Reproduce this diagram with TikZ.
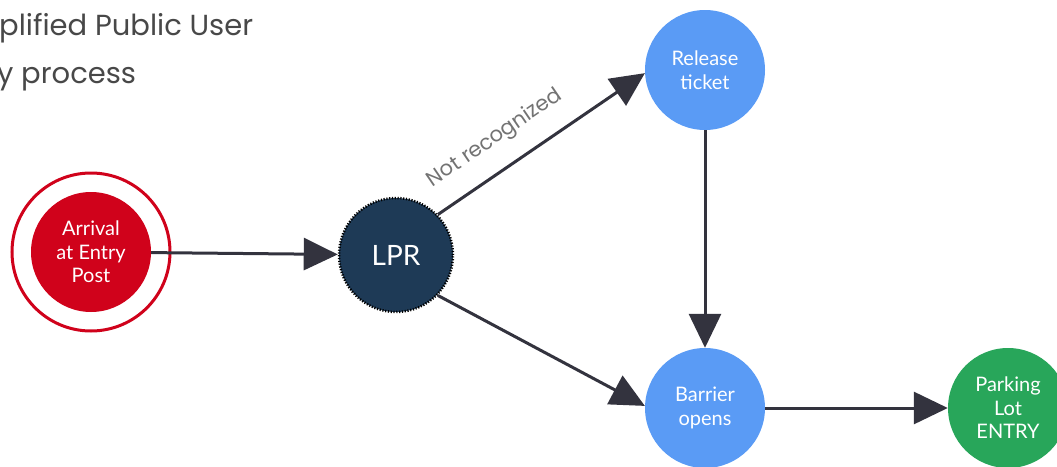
\documentclass[tikz,border=0pt]{standalone}
\usepackage{fontspec}
\setmainfont{Lato}
\newfontfamily\titlefont{Poppins}
\usetikzlibrary{arrows.meta}

\definecolor{stopred}{RGB}{208,2,27}
\definecolor{stepblue}{RGB}{90,155,245}
\definecolor{gogreen}{RGB}{40,166,90}
\definecolor{lprnavy}{RGB}{30,58,86}
\definecolor{flowgray}{RGB}{51,51,62}
\definecolor{titlegray}{RGB}{72,72,72}
\definecolor{notegray}{RGB}{115,115,115}

\begin{document}
\begin{tikzpicture}[x=1pt,y=-1pt,
  state/.style={circle, minimum size=120pt, inner sep=0pt, text=white,
    align=center, font=\fontsize{20}{23.5}\selectfont},
  flow/.style={draw=flowgray, line width=3pt,
    -{Triangle[length=34pt,width=32pt]}}]
  \useasboundingbox (0,0) rectangle (1057,466);

  % title, cut by the page edge
  \node[anchor=base west, inner sep=0pt, text=titlegray,
    font=\titlefont\fontsize{29}{34}\selectfont] (title1) at (-1,35) {plified Public User};
  \node[anchor=base west, inner sep=0pt, text=titlegray,
    font=\titlefont\fontsize{29}{34}\selectfont] (title2) at (-3,83) {y process};

  % states
  \node[state, fill=stopred] (arrival) at (91,252) {Arrival\\at Entry\\Post};
  \draw[stopred, line width=3pt] (arrival.center) circle (79);
  \node[state, fill=lprnavy, minimum size=114pt, draw=black, line width=2.5pt,
    dash pattern=on 1.2pt off 1.6pt, font=\fontsize{28}{32}\selectfont]
    (lpr) at (396,255) {LPR};
  \node[state, fill=stepblue] (release) at (705,70) {Release\\ticket};
  \node[state, fill=stepblue] (barrier) at (705,408) {Barrier\\opens};
  \node[state, fill=gogreen] (parking) at (1008,408) {Parking\\Lot\\ENTRY};

  % flows
  \draw[flow] (arrival) -- (lpr);
  \draw[flow] (lpr.44) -- (release.183)
    node[pos=0.36, above, sloped, text=notegray, yshift=15pt,
      font=\titlefont\fontsize{21}{24}\selectfont] (notrec) {Not recognized};
  \draw[flow] (lpr.316) -- (barrier.178);
  \draw[flow] (release) -- (barrier);
  \draw[flow] (barrier) -- (parking);
\end{tikzpicture}
\end{document}
